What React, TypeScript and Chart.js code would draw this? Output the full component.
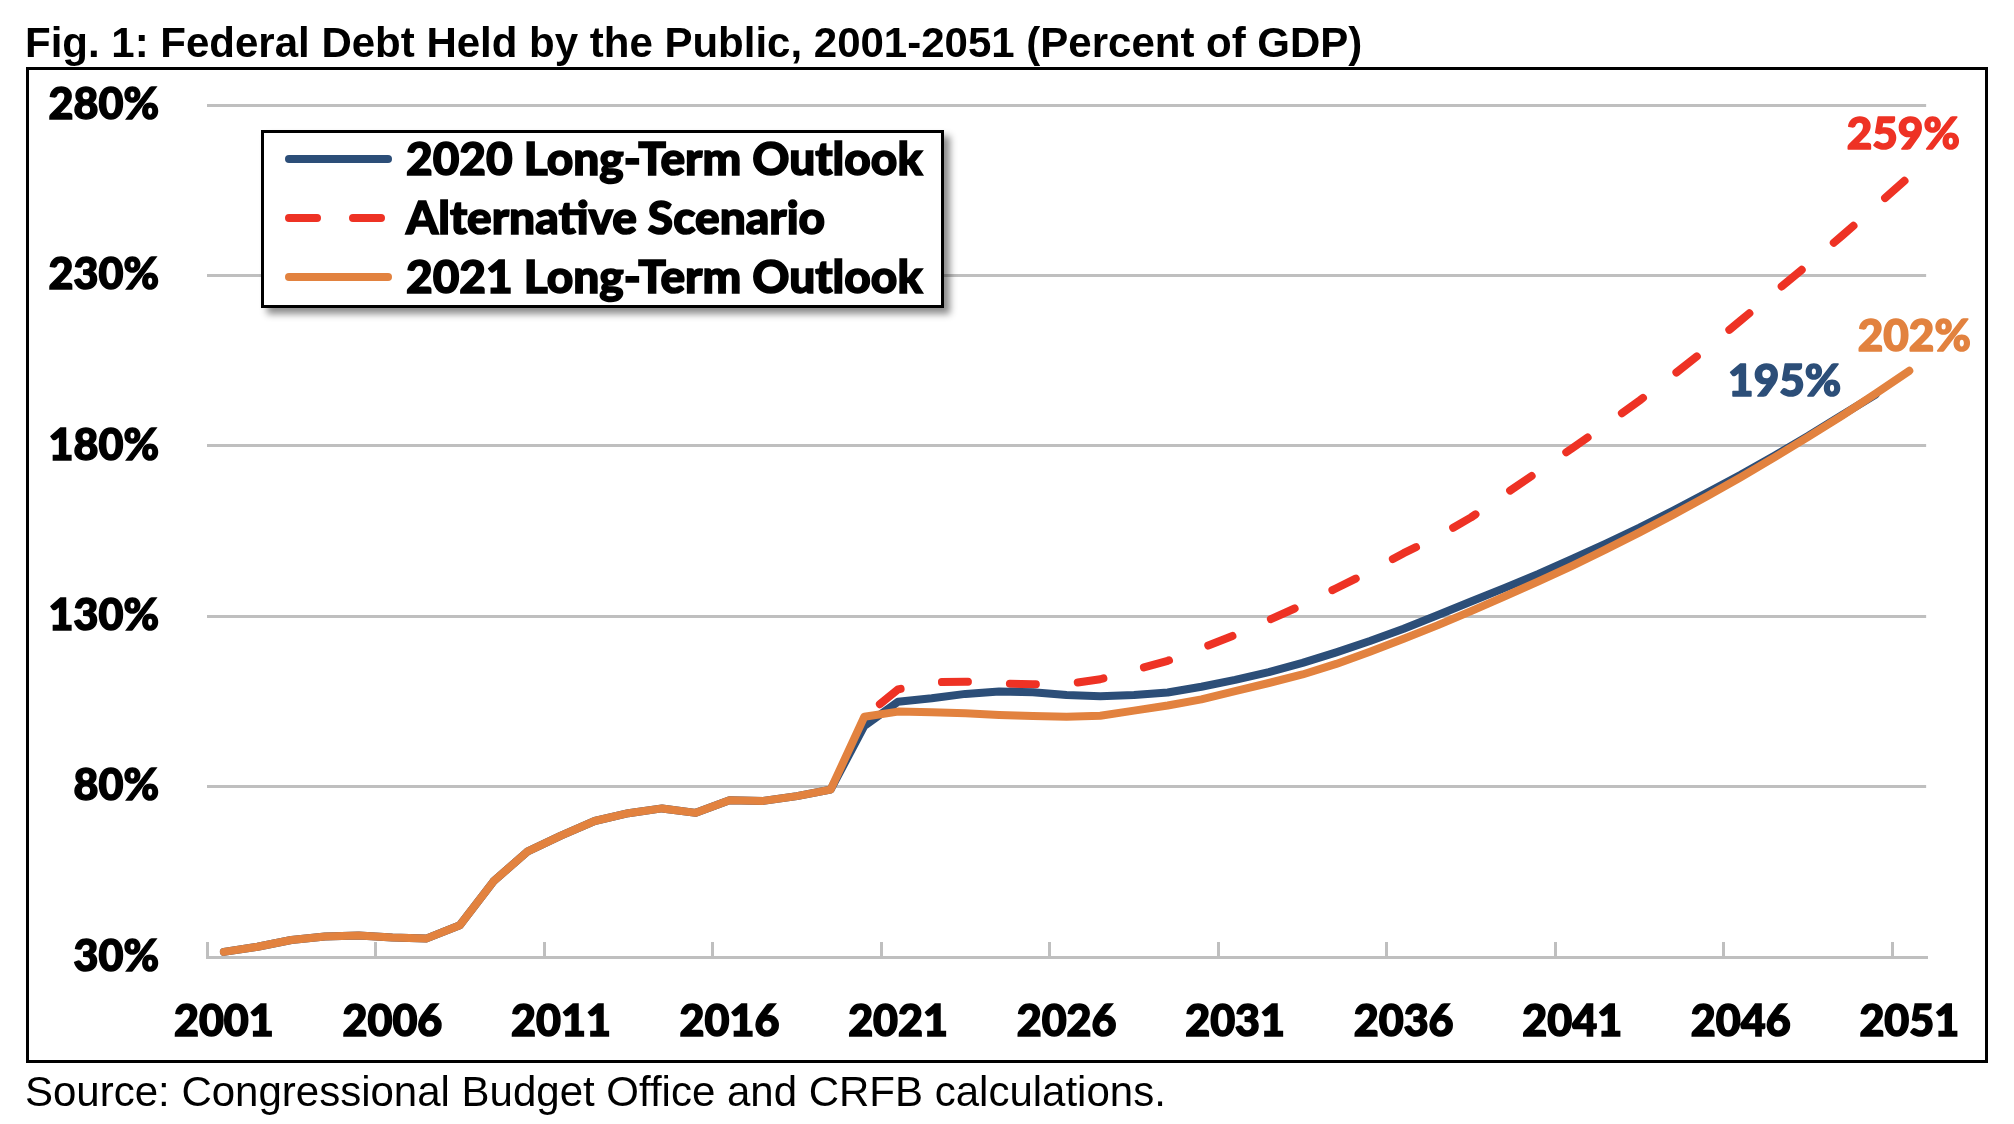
import React, { useEffect, useRef } from 'react';
import { Chart, registerables } from 'chart.js';

Chart.register(...registerables);

// ---------- data ----------
const YEARS = [
  2001, 2002, 2003, 2004, 2005, 2006, 2007, 2008, 2009, 2010,
  2011, 2012, 2013, 2014, 2015, 2016, 2017, 2018, 2019, 2020,
  2021, 2022, 2023, 2024, 2025, 2026, 2027, 2028, 2029, 2030,
  2031, 2032, 2033, 2034, 2035, 2036, 2037, 2038, 2039, 2040,
  2041, 2042, 2043, 2044, 2045, 2046, 2047, 2048, 2049, 2050, 2051,
];
const X_TICK_LABELS = [2001, 2006, 2011, 2016, 2021, 2026, 2031, 2036, 2041, 2046, 2051];
const Y_TICKS = [30, 80, 130, 180, 230, 280];

// Actual debt held by the public, 2001-2019 (% of GDP)
const HISTORICAL = [
  31.5, 33.0, 35.0, 36.0, 36.3, 35.7, 35.4, 39.3, 52.2, 60.9,
  65.6, 69.9, 72.2, 73.6, 72.3, 76.0, 75.8, 77.2, 79.1,
];
// 2020 Long-Term Outlook, 2020-2050
const OUTLOOK_2020_PROJ = [
  97.8, 104.9, 105.9, 107.2, 107.9, 107.7, 106.9, 106.5, 106.9, 107.6,
  109.3, 111.3, 113.6, 116.3, 119.4, 122.7, 126.3, 130.3, 134.3, 138.3,
  142.4, 146.8, 151.3, 156.0, 161.0, 166.2, 171.5, 177.1, 182.9, 189.0, 195.0,
];
// 2021 Long-Term Outlook, 2020-2051
const OUTLOOK_2021_PROJ = [
  100.5, 102.0, 101.8, 101.5, 101.0, 100.7, 100.5, 100.8, 102.3, 103.8,
  105.6, 108.0, 110.4, 112.9, 116.0, 119.6, 123.4, 127.3, 131.5, 135.8,
  140.2, 144.8, 149.6, 154.6, 159.8, 165.2, 170.8, 176.6, 182.6, 188.8, 195.3, 202.0,
];
// Alternative Scenario, 2020-2051
const ALTERNATIVE_PROJ = [
  100.5, 108.5, 110.6, 110.8, 110.3, 110.0, 110.1, 111.5, 114.2, 116.9,
  120.6, 124.5, 128.9, 133.3, 138.2, 143.1, 148.5, 153.3, 159.0, 165.8,
  172.5, 179.3, 186.2, 193.3, 200.8, 208.6, 216.8, 225.0, 233.2, 241.6, 250.2, 259.0,
];

const SERIES_NAMES = ['2020 Long-Term Outlook', 'Alternative Scenario', '2021 Long-Term Outlook'];
const TITLE = 'Fig. 1: Federal Debt Held by the Public, 2001-2051 (Percent of GDP)';
const SOURCE = 'Source: Congressional Budget Office and CRFB calculations.';

// ---------- styles ----------
const BLUE = '#2C4E78';
const RED = '#EE3224';
const ORANGE = '#E2823F';
const GRID = '#BFBFBF';
const LABEL_FONT = 'Lato, "Noto Sans", sans-serif';
const LABEL_WEIGHT = 900;
const LABEL_STROKE = 1.5;
const TEXT_FONT = '"Liberation Sans", Arial, sans-serif';

const W = 2014;
const H = 1124;

// build full-length series (null where a series has no value)
const HIST_NULLS = HISTORICAL.map(() => null);
const SERIES_2020 = [...HISTORICAL, ...OUTLOOK_2020_PROJ, null];
const SERIES_2021 = [...HISTORICAL, ...OUTLOOK_2021_PROJ];
const SERIES_ALT = [...HIST_NULLS, ...ALTERNATIVE_PROJ];

// end-of-line value labels (offset from the last point, in px)
const END_LABELS = [
  { dataset: 2, color: RED, dx: -6, dy: -42 },
  { dataset: 0, color: ORANGE, dx: 5, dy: -34 },
  { dataset: 1, color: BLUE, dx: -91, dy: -13 },
];

const endLabelPlugin = {
  id: 'endLabels',
  afterDatasetsDraw(chart: any) {
    const ctx = chart.ctx;
    ctx.save();
    ctx.font = `${LABEL_WEIGHT} 44px ${LABEL_FONT}`;
    ctx.textAlign = 'center';
    ctx.textBaseline = 'middle';
    ctx.lineJoin = 'round';
    ctx.lineWidth = LABEL_STROKE;
    END_LABELS.forEach((l) => {
      const ds = chart.data.datasets[l.dataset];
      const meta = chart.getDatasetMeta(l.dataset);
      let i = ds.data.length - 1;
      while (i >= 0 && ds.data[i] == null) i--;
      if (i < 0) return;
      const pt = meta.data[i];
      const text = `${Math.round(ds.data[i])}%`;
      ctx.fillStyle = l.color;
      ctx.strokeStyle = l.color;
      ctx.strokeText(text, pt.x + l.dx, pt.y + l.dy);
      ctx.fillText(text, pt.x + l.dx, pt.y + l.dy);
    });
    ctx.restore();
  },
};

function LegendSample({ color, dashed }: { color: string; dashed?: boolean }) {
  return (
    <svg width={120} height={16} style={{ position: 'absolute', left: 17, top: -8 }}>
      <line
        x1={8}
        y1={8}
        x2={107}
        y2={8}
        stroke={color}
        strokeWidth={8}
        strokeLinecap="round"
        strokeDasharray={dashed ? '28 36' : undefined}
      />
    </svg>
  );
}

export default function App() {
  const ref = useRef<HTMLCanvasElement>(null);

  useEffect(() => {
    if (!ref.current) return;
    const chart = new Chart(ref.current, {
      type: 'line',
      data: {
        labels: YEARS.map(String),
        datasets: [
          {
            label: SERIES_NAMES[2],
            data: SERIES_2021,
            borderColor: ORANGE,
            backgroundColor: ORANGE,
            borderWidth: 8,
            order: 0,
          },
          {
            label: SERIES_NAMES[0],
            data: SERIES_2020,
            borderColor: BLUE,
            backgroundColor: BLUE,
            borderWidth: 8,
            order: 1,
          },
          {
            label: SERIES_NAMES[1],
            data: SERIES_ALT,
            borderColor: RED,
            backgroundColor: RED,
            borderWidth: 8,
            borderDash: [26, 42],
            borderDashOffset: -20,
            order: 2,
          },
        ],
      } as any,
      options: {
        responsive: false,
        animation: false,
        devicePixelRatio: 1,
        layout: { padding: { left: 0, top: 105, right: 84, bottom: 0 } },
        elements: {
          point: { radius: 0, hoverRadius: 0 },
          line: { tension: 0, borderCapStyle: 'round', borderJoinStyle: 'round', fill: false },
        },
        plugins: {
          legend: { display: false },
          tooltip: { enabled: false },
          title: { display: false },
        },
        scales: {
          x: {
            type: 'category',
            offset: true,
            grid: {
              offset: true,
              drawOnChartArea: false,
              drawTicks: true,
              tickLength: -15,
              lineWidth: 3,
              tickWidth: 3,
              color: GRID,
              tickColor: (ctx: any) => (ctx.index % 5 === 0 ? GRID : 'rgba(0,0,0,0)'),
            },
            border: { display: true, color: GRID, width: 3 },
            ticks: {
              autoSkip: false,
              maxRotation: 0,
              minRotation: 0,
              padding: 54,
              color: '#000',
              textStrokeColor: '#000',
              textStrokeWidth: LABEL_STROKE,
              font: { family: LABEL_FONT, weight: LABEL_WEIGHT, size: 43 },
              callback: (_v: any, idx: number) =>
                X_TICK_LABELS.includes(YEARS[idx]) ? String(YEARS[idx]) : '',
            },
            afterFit: (s: any) => {
              s.height = H - 957;
            },
          },
          y: {
            min: 30,
            max: 280,
            afterBuildTicks: (s: any) => {
              s.ticks = Y_TICKS.map((v) => ({ value: v }));
            },
            grid: { color: GRID, lineWidth: 3, drawTicks: false },
            border: { display: false },
            ticks: {
              padding: 48,
              color: '#000',
              textStrokeColor: '#000',
              textStrokeWidth: LABEL_STROKE,
              font: { family: LABEL_FONT, weight: LABEL_WEIGHT, size: 43 },
              callback: (v: any) => `${v}%`,
            },
            afterFit: (s: any) => {
              s.width = 207;
            },
          },
        },
      } as any,
      plugins: [endLabelPlugin],
    });
    return () => chart.destroy();
  }, []);

  const rowText: React.CSSProperties = {
    position: 'absolute',
    left: 142,
    fontFamily: LABEL_FONT,
    fontWeight: LABEL_WEIGHT,
    fontSize: 46,
    lineHeight: '46px',
    whiteSpace: 'nowrap',
    color: '#000',
    WebkitTextStroke: `${LABEL_STROKE}px #000`,
  };

  return (
    <div
      style={{
        position: 'absolute',
        left: 0,
        top: 0,
        width: W,
        height: H,
        background: '#fff',
        overflow: 'hidden',
      }}
    >
      <canvas ref={ref} width={W} height={H} style={{ position: 'absolute', left: 0, top: 0 }} />
      <div
        style={{
          position: 'absolute',
          left: 25,
          top: 22,
          fontFamily: TEXT_FONT,
          fontWeight: 700,
          fontSize: 42,
          lineHeight: '42px',
          whiteSpace: 'nowrap',
          color: '#000',
        }}
      >
        {TITLE}
      </div>
      <div
        style={{
          position: 'absolute',
          left: 26,
          top: 67,
          width: 1962,
          height: 996,
          border: '3px solid #000',
          boxSizing: 'border-box',
        }}
      />
      <div
        style={{
          position: 'absolute',
          left: 261,
          top: 130,
          width: 683,
          height: 178,
          border: '3px solid #000',
          boxSizing: 'border-box',
          background: '#fff',
          boxShadow: '6px 6px 7px rgba(0,0,0,0.45)',
        }}
      >
        {[
          { name: SERIES_NAMES[0], color: BLUE, dashed: false, y: 26 },
          { name: SERIES_NAMES[1], color: RED, dashed: true, y: 85 },
          { name: SERIES_NAMES[2], color: ORANGE, dashed: false, y: 144 },
        ].map((r) => (
          <div key={r.name} style={{ position: 'absolute', left: 0, top: r.y, width: '100%', height: 0 }}>
            <LegendSample color={r.color} dashed={r.dashed} />
            <div style={{ ...rowText, top: -24 }}>{r.name}</div>
          </div>
        ))}
      </div>
      <div
        style={{
          position: 'absolute',
          left: 25,
          top: 1071,
          fontFamily: TEXT_FONT,
          fontWeight: 400,
          fontSize: 42,
          lineHeight: '42px',
          whiteSpace: 'nowrap',
          color: '#000',
        }}
      >
        {SOURCE}
      </div>
    </div>
  );
}
